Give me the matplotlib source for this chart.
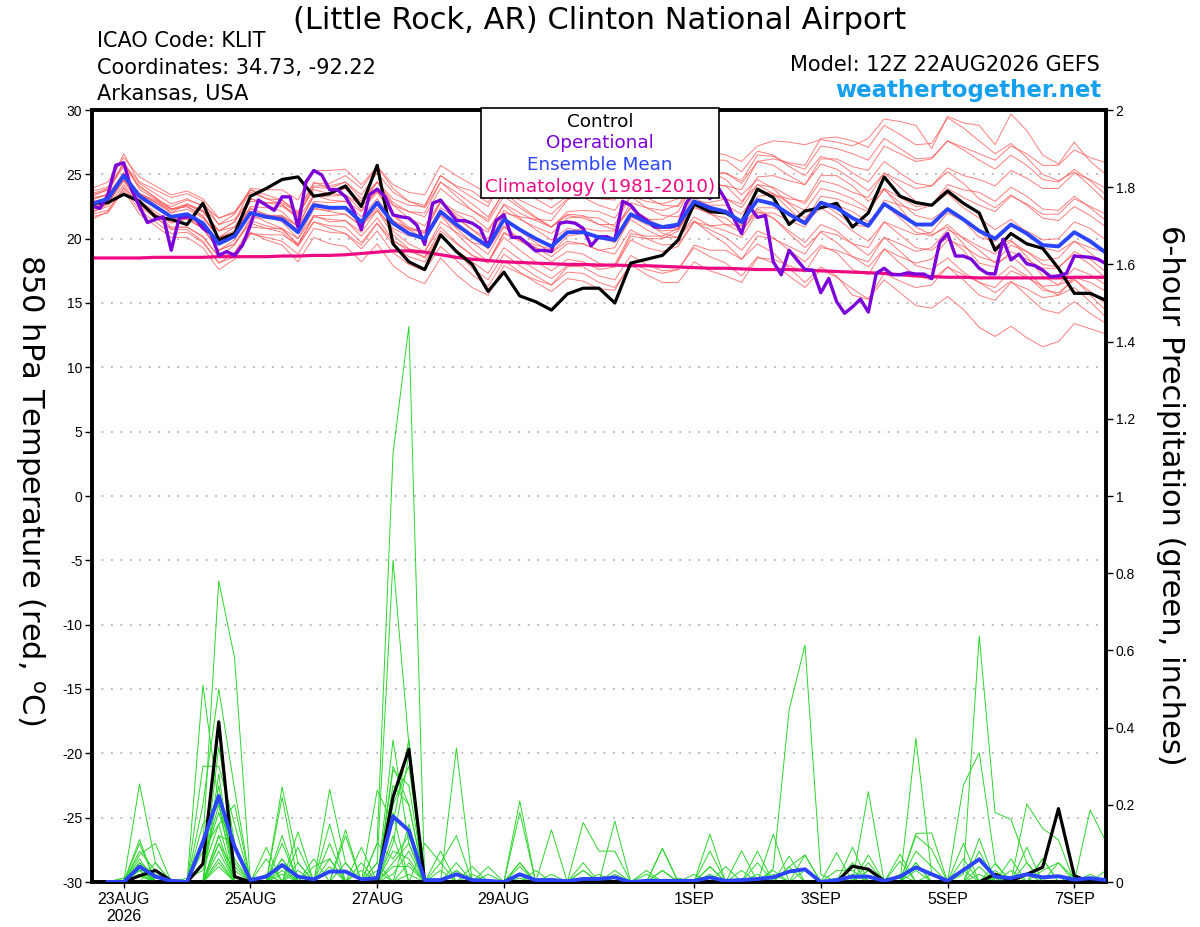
# =========================================
# Pluma GEFS - Little Rock (KLIT)
# Temperatura 850 hPa y precipitación 6 h
# =========================================

import numpy as np
import matplotlib
matplotlib.use("Agg")
import matplotlib.pyplot as plt
from matplotlib.patches import Rectangle
from matplotlib.ticker import FormatStrFormatter

plt.rcParams["font.family"] = ["DejaVu Sans"]
plt.rcParams["axes.unicode_minus"] = False
FUENTE_TICKS = ["Liberation Sans", "DejaVu Sans"]

# -----------------------------------------
# Datos: temperatura 850 hPa (cada 6 h desde 12Z 22AUG)
# -----------------------------------------
control_t = [22.75, 22.8, 23.45, 22.9, 21.7, 21.5, 21.1, 22.75, 19.9, 20.4,
             23.3, 23.9, 24.6, 24.8, 23.3, 23.5, 24.1, 22.5, 25.7, 19.6,
             18.2, 17.6, 20.3, 19.0, 18.0, 15.9, 17.4, 15.55, 15.1, 14.45,
             15.7, 16.15, 16.15, 15.0, 18.1, 18.4, 18.7, 19.9, 22.7, 22.1,
             22.0, 21.3, 23.85, 23.2, 21.1, 22.15, 22.4, 22.75, 20.9, 22.0,
             24.8, 23.3, 22.8, 22.6, 23.7, 22.75, 22.0, 19.1, 20.4, 19.6,
             19.25, 17.7, 15.75, 15.75, 15.2]

media_t = [22.7, 23.1, 24.9, 23.3, 22.5, 21.7, 21.9, 21.2, 19.6, 20.2,
           22.0, 21.7, 21.5, 20.5, 22.6, 22.4, 22.4, 21.3, 22.8, 21.2,
           20.4, 20.0, 22.1, 21.1, 20.2, 19.4, 21.5, 20.7, 20.0, 19.4,
           20.5, 20.5, 20.1, 19.9, 21.9, 21.3, 20.9, 21.1, 22.9, 22.4,
           22.1, 21.3, 23.0, 22.7, 21.9, 21.2, 22.8, 22.4, 21.6, 21.0,
           22.7, 21.9, 21.1, 21.1, 22.3, 21.5, 20.6, 20.0, 21.1, 20.4,
           19.5, 19.4, 20.5, 19.8, 18.9]

climatologia = [18.5, 18.5, 18.5, 18.5, 18.55, 18.55, 18.55, 18.55, 18.6, 18.6,
                18.6, 18.6, 18.65, 18.65, 18.7, 18.7, 18.75, 18.85, 18.95, 19.05,
                19.05, 18.95, 18.75, 18.55, 18.4, 18.3, 18.2, 18.15, 18.1, 18.05,
                18.0, 18.0, 17.95, 17.95, 17.9, 17.9, 17.85, 17.8, 17.75, 17.7,
                17.7, 17.65, 17.6, 17.6, 17.6, 17.55, 17.5, 17.45, 17.4, 17.35,
                17.3, 17.2, 17.1, 17.05, 17.0, 17.0, 16.95, 16.95, 16.95, 16.95,
                16.95, 16.95, 17.0, 17.0, 17.0]

# operacional cada 3 h
operacional = [22.55, 22.35, 23.4, 25.7, 25.9, 23.8, 22.5, 21.25, 21.5, 21.7,
               19.1, 21.6, 21.7, 21.6, 20.8, 20.4, 18.7, 19.0, 18.7, 19.5,
               21.05, 23.0, 22.6, 22.2, 23.25, 23.25, 20.9, 24.4, 25.3, 24.95,
               23.8, 23.8, 23.25, 22.2, 20.7, 23.4, 23.85, 23.25, 21.85, 21.7,
               21.6, 21.05, 19.55, 22.75, 23.0, 22.2, 21.4, 21.4, 21.2, 20.8,
               19.4, 21.4, 21.85, 20.1, 20.1, 19.6, 19.05, 19.1, 19.0, 21.2,
               21.3, 21.2, 20.8, 19.45, 20.15, 20.15, 19.9, 22.9, 22.6, 21.85,
               21.45, 20.9, 20.9, 20.9, 21.05, 22.75, 23.6, 23.9, 23.1, 24.0,
               23.0, 21.6, 20.4, 22.5, 21.65, 21.8, 18.2, 17.2, 19.1, 18.35,
               17.6, 17.55, 15.8, 16.9, 15.1, 14.2, 14.7, 15.3, 14.3, 17.3,
               17.7, 17.2, 17.2, 17.35, 17.25, 17.25, 16.9, 19.7, 20.4, 18.65,
               18.65, 18.4, 17.7, 17.3, 17.25, 19.95, 18.35, 18.8, 18.05, 17.9,
               17.55, 17.05, 17.1, 17.3, 18.65, 18.6, 18.55, 18.4, 18.05]

# miembros del ensamble (temperatura)
t01 = [23.0, 23.5, 26.0, 23.8, 23.1, 22.0, 22.7, 22.1, 20.6, 21.3, 23.8, 23.1, 23.0, 22.1, 24.4, 23.9, 24.4, 23.4, 25.1, 23.6,
       22.9, 22.6, 24.9, 24.0, 23.2, 22.5, 24.8, 24.1, 23.5, 23.0, 24.3, 24.0, 24.1, 24.0, 26.2, 25.7, 25.4, 25.7, 27.0, 26.8,
       26.5, 26.0, 27.2, 27.6, 27.5, 27.3, 27.7, 27.5, 27.2, 27.8, 29.3, 29.1, 28.8, 27.0, 29.5, 29.0, 28.8, 27.3, 29.7, 28.4,
       26.5, 25.8, 27.5, 26.0, 25.0]
t02 = [22.4, 22.7, 24.5, 22.9, 22.1, 21.3, 21.5, 20.8, 19.1, 19.6, 21.2, 20.8, 20.5, 19.4, 21.3, 21.0, 20.9, 19.7, 21.2, 19.5,
       18.6, 18.2, 20.2, 19.1, 18.2, 17.3, 19.3, 18.4, 17.6, 16.9, 17.9, 17.8, 17.1, 16.8, 18.7, 18.0, 17.5, 17.6, 19.3, 18.6,
       18.1, 17.1, 18.6, 18.1, 17.1, 16.2, 17.6, 17.0, 16.1, 15.3, 16.8, 15.8, 14.8, 14.6, 15.5, 14.5, 13.1, 12.4, 13.2, 12.3,
       11.6, 12.0, 13.4, 13.0, 12.6]
t03 = [23.5, 23.9, 26.6, 24.3, 23.5, 22.7, 23.1, 22.5, 21.1, 21.9, 23.9, 23.8, 23.8, 23.0, 25.3, 25.3, 25.4, 24.2, 25.6, 23.9,
       22.9, 22.4, 24.4, 23.3, 22.2, 21.3, 23.3, 22.4, 21.6, 20.9, 21.9, 21.8, 21.1, 21.1, 23.3, 22.9, 22.7, 23.1, 25.1, 24.9,
       25.1, 24.5, 26.5, 26.4, 25.8, 25.4, 27.2, 27.0, 26.6, 26.1, 27.8, 27.0, 26.2, 26.3, 27.6, 26.9, 26.1, 25.4, 26.5, 25.7,
       24.6, 24.4, 25.4, 24.5, 23.4]
t04 = [21.9, 22.2, 23.9, 22.2, 21.3, 20.4, 20.5, 19.7, 18.1, 18.6, 20.4, 20.1, 19.8, 18.8, 20.8, 20.5, 20.4, 19.2, 20.6, 18.9,
       18.0, 17.5, 19.4, 18.3, 17.2, 16.3, 18.3, 17.4, 16.6, 15.9, 16.9, 16.7, 16.1, 16.0, 18.1, 17.6, 17.3, 17.6, 19.5, 19.1,
       19.1, 18.4, 20.2, 20.0, 19.4, 18.8, 20.6, 20.3, 19.6, 18.7, 20.1, 19.0, 17.9, 17.6, 18.5, 17.4, 16.6, 15.8, 16.7, 15.6,
       14.5, 14.2, 15.1, 14.2, 13.4]
t05 = [23.2, 23.4, 25.1, 23.4, 22.5, 21.6, 21.6, 20.8, 19.1, 19.9, 21.9, 21.8, 21.8, 21.0, 23.3, 23.3, 23.4, 22.6, 24.4, 23.1,
       22.6, 22.5, 24.9, 24.1, 23.7, 22.8, 24.8, 23.9, 23.1, 22.4, 23.3, 23.2, 22.6, 22.2, 24.0, 23.2, 22.6, 22.5, 24.1, 23.4,
       23.1, 22.4, 24.2, 24.0, 23.3, 22.7, 24.5, 24.2, 23.6, 23.2, 25.1, 24.5, 23.9, 24.1, 25.5, 24.9, 24.6, 24.1, 25.3, 24.7,
       23.9, 23.9, 25.1, 24.6, 23.9]
t06 = [22.2, 22.8, 24.8, 23.4, 22.8, 22.2, 22.6, 22.1, 20.6, 20.9, 22.4, 21.8, 21.3, 20.0, 21.8, 21.3, 21.4, 20.2, 21.6, 19.9,
       19.0, 18.6, 20.6, 19.6, 18.7, 18.2, 20.5, 19.9, 19.5, 19.2, 20.5, 20.8, 20.6, 20.6, 22.8, 22.4, 22.2, 22.6, 24.6, 24.3,
       24.1, 22.9, 24.2, 23.5, 22.3, 21.2, 22.4, 21.6, 20.6, 19.8, 21.3, 20.3, 19.3, 19.1, 20.1, 19.1, 17.6, 16.9, 17.9, 17.1,
       16.0, 15.8, 16.8, 15.9, 14.9]
t07 = [23.9, 24.4, 26.3, 24.8, 24.1, 23.4, 23.7, 23.1, 21.6, 22.1, 23.8, 23.4, 23.0, 21.9, 23.8, 23.5, 23.4, 22.2, 23.6, 21.9,
       20.9, 20.4, 22.1, 20.9, 20.2, 19.2, 21.0, 19.9, 19.0, 18.2, 19.0, 18.8, 18.1, 17.8, 19.9, 19.3, 19.0, 19.4, 21.3, 21.0,
       21.1, 20.5, 22.4, 22.4, 21.9, 21.4, 23.3, 23.1, 22.6, 22.1, 23.9, 23.2, 22.5, 22.6, 23.9, 23.2, 22.6, 22.1, 23.3, 22.7,
       21.9, 21.9, 23.1, 22.5, 21.9]
t08 = [21.7, 22.0, 23.7, 21.9, 21.0, 20.1, 20.1, 19.3, 17.6, 18.4, 20.4, 20.3, 20.3, 19.5, 21.8, 21.8, 21.9, 21.0, 22.7, 21.3,
       20.7, 20.5, 22.8, 21.9, 21.2, 20.5, 22.7, 22.0, 21.4, 20.9, 22.1, 22.2, 22.1, 21.6, 23.3, 22.4, 21.8, 21.7, 23.2, 22.5,
       22.1, 21.0, 22.3, 21.6, 20.4, 19.3, 20.5, 19.7, 18.6, 17.8, 19.2, 18.1, 17.1, 16.8, 17.8, 16.8, 15.6, 15.2, 16.6, 16.1,
       15.4, 15.6, 17.0, 16.6, 15.9]
t09 = [22.7, 23.2, 25.1, 23.5, 22.8, 22.0, 22.3, 21.6, 20.1, 20.9, 22.9, 22.8, 22.8, 22.0, 24.3, 24.3, 24.9, 23.9, 25.6, 24.2,
       23.6, 23.4, 25.7, 24.9, 24.2, 23.5, 25.7, 25.0, 24.4, 23.9, 25.1, 25.2, 25.1, 24.6, 26.3, 25.4, 24.7, 24.6, 26.1, 25.3,
       25.1, 24.3, 26.0, 25.7, 24.9, 24.2, 25.8, 25.4, 24.6, 23.7, 25.1, 24.0, 22.9, 22.6, 23.5, 22.4, 21.6, 20.7, 21.5, 20.5,
       19.3, 19.0, 19.8, 18.9, 17.9]
t10 = [22.9, 23.1, 24.7, 22.9, 21.9, 20.9, 20.9, 20.1, 18.6, 18.9, 20.5, 19.9, 19.5, 18.2, 20.1, 19.6, 19.4, 18.2, 19.6, 17.9,
       17.0, 16.5, 18.5, 17.2, 16.2, 15.6, 17.9, 17.3, 16.8, 16.4, 17.8, 18.0, 17.8, 18.0, 20.4, 20.2, 20.2, 20.8, 22.9, 22.8,
       23.1, 22.7, 24.8, 24.9, 24.5, 24.2, 26.2, 26.2, 25.6, 25.3, 27.2, 26.6, 26.0, 26.2, 27.6, 27.1, 26.6, 26.1, 27.2, 26.6,
       25.7, 25.7, 26.9, 26.3, 25.9]
t11 = [22.5, 22.8, 24.6, 23.1, 22.4, 21.6, 21.9, 21.3, 19.6, 20.3, 22.1, 21.8, 21.7, 20.7, 22.9, 22.8, 22.9, 21.7, 23.1, 21.4,
       20.4, 19.9, 21.9, 20.8, 19.7, 18.8, 20.9, 20.0, 19.3, 18.6, 19.6, 19.6, 19.1, 18.8, 20.7, 20.0, 19.5, 19.6, 21.3, 20.7,
       20.1, 19.1, 20.6, 20.1, 19.1, 18.2, 19.5, 18.9, 17.6, 17.2, 19.2, 18.6, 18.1, 18.4, 19.9, 19.4, 18.6, 18.2, 19.5, 19.0,
       18.3, 18.5, 19.8, 19.3, 18.9]
t12 = [23.3, 23.8, 25.8, 24.4, 23.8, 23.2, 23.5, 22.9, 21.1, 21.5, 23.1, 22.6, 22.1, 20.9, 22.8, 22.4, 22.4, 21.0, 22.2, 20.3,
       19.2, 18.5, 20.3, 19.0, 17.7, 16.8, 18.8, 17.9, 17.1, 16.4, 17.4, 17.3, 16.6, 16.2, 18.0, 17.2, 16.6, 16.6, 18.2, 17.5,
       17.1, 16.6, 18.5, 18.4, 17.9, 17.4, 19.3, 19.1, 18.6, 18.2, 20.1, 19.6, 19.0, 19.3, 20.7, 20.1, 19.4, 18.8, 19.8, 19.0,
       18.0, 17.8, 18.8, 18.0, 16.9]
t13 = [22.1, 22.5, 24.2, 22.5, 21.6, 20.8, 20.9, 20.2, 18.6, 19.5, 21.6, 21.6, 21.7, 21.0, 23.4, 23.5, 23.9, 22.9, 24.4, 22.8,
       22.1, 21.7, 23.9, 22.9, 22.2, 21.5, 23.7, 23.0, 22.4, 21.9, 23.1, 23.2, 23.1, 23.0, 25.1, 24.6, 24.3, 24.6, 26.5, 26.1,
       26.1, 25.2, 26.8, 26.5, 25.6, 24.9, 26.4, 26.0, 25.1, 24.4, 26.0, 25.1, 24.3, 24.1, 25.2, 24.3, 23.1, 22.4, 23.4, 22.6,
       21.6, 21.4, 22.5, 21.8, 20.9]
t14 = [23.7, 24.0, 25.8, 24.1, 23.2, 22.3, 22.5, 21.7, 20.1, 20.6, 22.3, 21.9, 21.6, 20.4, 22.4, 22.1, 21.9, 21.0, 22.8, 21.4,
       20.8, 20.6, 22.9, 22.1, 21.7, 20.7, 22.6, 21.6, 20.7, 19.9, 20.8, 20.6, 20.1, 19.7, 21.5, 20.7, 20.1, 20.1, 21.7, 21.0,
       20.6, 20.1, 22.0, 22.0, 21.4, 20.9, 22.8, 22.6, 22.1, 21.3, 22.7, 21.6, 20.5, 20.2, 21.1, 20.0, 19.1, 18.1, 18.7, 17.6,
       16.2, 15.6, 16.2, 15.1, 13.9]
t15 = [21.5, 22.1, 24.0, 22.6, 21.9, 21.2, 21.6, 21.1, 19.6, 20.4, 22.5, 22.4, 22.5, 21.7, 24.1, 24.1, 24.4, 23.1, 24.4, 22.6,
       21.6, 21.0, 22.9, 21.7, 20.7, 19.7, 21.6, 20.6, 19.7, 18.9, 19.8, 19.6, 19.1, 19.3, 21.7, 21.5, 21.5, 22.1, 24.3, 24.2,
       24.1, 23.8, 26.0, 26.2, 25.9, 25.7, 27.8, 27.9, 27.6, 27.1, 28.8, 28.1, 27.3, 27.4, 29.4, 28.6, 27.6, 26.6, 27.4, 26.3,
       25.0, 24.5, 25.2, 24.1, 22.9]
t16 = [23.1, 23.4, 25.1, 23.4, 22.5, 21.6, 21.6, 20.8, 19.1, 19.6, 21.4, 21.0, 20.7, 19.6, 21.7, 21.5, 21.4, 20.5, 22.2, 20.8,
       20.2, 20.1, 22.4, 21.6, 20.7, 20.0, 22.2, 21.5, 20.9, 20.4, 21.6, 21.7, 21.6, 20.9, 22.4, 21.3, 20.4, 20.1, 21.4, 20.4,
       19.6, 18.4, 19.6, 18.9, 17.7, 16.6, 17.8, 17.1, 15.6, 15.3, 17.3, 16.7, 16.2, 16.4, 17.8, 17.2, 16.6, 16.2, 17.5, 17.0,
       16.3, 16.4, 17.7, 17.2, 16.4]
t17 = [22.3, 22.9, 24.9, 23.5, 22.9, 22.3, 22.7, 22.2, 20.6, 21.3, 23.1, 22.8, 22.6, 21.8, 24.0, 23.9, 23.9, 22.5, 23.7, 21.8,
       20.7, 20.0, 21.8, 20.4, 19.2, 18.2, 20.1, 19.1, 18.2, 17.5, 18.4, 18.2, 17.6, 17.8, 20.2, 20.0, 20.0, 20.6, 22.8, 22.6,
       22.6, 21.9, 23.7, 23.5, 22.8, 22.2, 23.9, 23.6, 23.1, 22.3, 23.8, 22.8, 21.8, 21.5, 22.4, 21.4, 20.1, 19.8, 21.0, 20.6,
       19.9, 20.0, 21.3, 20.8, 19.9]
t18 = [22.7, 22.9, 24.5, 22.7, 21.7, 20.7, 20.7, 19.8, 18.1, 18.9, 20.9, 20.8, 20.8, 20.0, 22.3, 22.2, 22.4, 21.1, 22.4, 20.6,
       19.6, 19.0, 20.9, 19.7, 18.7, 18.1, 20.4, 19.8, 19.3, 18.9, 20.2, 20.4, 20.1, 19.8, 21.7, 21.1, 20.6, 20.7, 22.5, 21.9,
       21.6, 20.6, 22.1, 21.6, 20.6, 19.7, 21.1, 20.6, 19.6, 19.3, 21.3, 20.8, 20.3, 20.5, 22.0, 21.4, 20.6, 19.4, 19.9, 18.6,
       17.1, 16.4, 16.9, 15.6, 14.4]
t19 = [23.4, 23.8, 25.6, 24.0, 23.2, 22.3, 22.5, 21.8, 20.1, 20.4, 21.9, 21.3, 20.8, 19.5, 21.3, 20.8, 20.4, 19.5, 21.2, 19.8,
       19.2, 19.0, 21.3, 20.5, 19.7, 19.4, 22.0, 21.7, 21.5, 21.4, 23.0, 23.5, 23.6, 23.3, 25.2, 24.5, 24.0, 24.1, 25.8, 25.2,
       24.6, 23.4, 24.6, 23.9, 22.7, 21.6, 22.8, 22.0, 21.1, 20.9, 23.0, 22.6, 22.2, 22.6, 24.2, 23.8, 23.6, 22.9, 24.0, 23.3,
       22.3, 22.2, 23.3, 22.4, 21.4]
t20 = [22.0, 22.7, 24.8, 23.5, 23.0, 22.5, 23.0, 22.6, 21.6, 22.0, 23.6, 23.1, 22.7, 21.5, 23.4, 23.0, 22.9, 22.1, 23.9, 22.6,
       22.1, 22.0, 24.4, 23.6, 22.7, 21.7, 23.6, 22.6, 21.7, 20.9, 21.8, 21.6, 21.1, 20.7, 22.4, 21.6, 20.9, 20.8, 22.4, 22.0,
       21.1, 21.0, 23.3, 23.4, 23.1, 22.9, 24.9, 24.9, 24.1, 22.9, 23.9, 22.4, 20.9, 20.3, 20.9, 19.6, 18.1, 17.8, 19.0, 18.4,
       17.7, 17.7, 19.0, 18.4, 17.4]

# -----------------------------------------
# Datos: precipitación 6 h (pulgadas, desde 18Z 22AUG)
# -----------------------------------------
control_pp = [0, 0, .016, .03, .003, 0, .047, .415, .014, 0, 0, 0, 0, 0, 0, 0,
              0, 0, .22, .344, 0, 0, 0, 0, 0, 0, 0, 0, 0, 0, 0, 0,
              0, 0, 0, 0, 0, 0, 0, 0, 0, 0, 0, 0, 0, 0, 0, .041,
              .033, .003, 0, 0, 0, 0, 0, 0, .02, .003, .02, .038, .19, .016, 0, 0]

media_pp = [0, 0, .04, .014, .003, 0, .104, .223, .091, .005, .014, .044, .014, .007, .027, .027,
            .007, .01, .17, .133, .005, .005, .02, .005, .003, 0, .02, .005, .005, .002, .008, .008,
            .012, 0, .003, .003, .003, .003, .012, .003, .005, .008, .012, .027, .033, 0, .005, .014,
            .014, .003, .014, .038, .02, .003, .031, .059, .014, .01, .02, .012, .015, .006, .01, .005]

p01 = [0, 0, .02, 0, 0, 0, 0, .12, 0, 0, 0, .06, 0, 0, 0, 0,
       0, .1, 1.11, 1.44, 0, 0, 0, 0, 0, 0, 0, 0, 0, 0, 0, 0,
       0, 0, 0, 0, 0, 0, 0, 0, 0, 0, 0, .04, 0, 0, 0, 0,
       0, 0, 0, 0, 0, 0, 0, .113, 0, 0, 0, 0, 0, 0, 0, 0]
p02 = [0, 0, .04, 0, 0, 0, 0, .28, 0, 0, 0, 0, 0, 0, 0, 0,
       0, .05, .834, .355, 0, 0, .05, 0, 0, 0, 0, 0, 0, 0, 0, 0,
       0, 0, 0, 0, 0, 0, 0, 0, 0, 0, 0, 0, 0, 0, 0, 0,
       0, 0, 0, .05, 0, 0, 0, 0, 0, 0, 0, .06, 0, 0, 0, 0]
p03 = [0, 0, .11, 0, 0, 0, .51, .2, .06, 0, 0, 0, 0, 0, .1, 0,
       0, 0, .368, .1, 0, 0, 0, 0, 0, 0, 0, 0, 0, 0, 0, 0,
       0, 0, 0, 0, 0, 0, .04, 0, 0, 0, 0, 0, 0, 0, 0, 0,
       0, 0, 0, 0, 0, 0, 0, .08, 0, 0, 0, 0, 0, 0, 0, 0]
p04 = [0, 0, 0, 0, 0, 0, .1, .78, .58, 0, 0, .12, 0, 0, 0, 0,
       0, 0, .2, .3, 0, 0, 0, 0, 0, 0, .05, 0, 0, 0, 0, 0,
       0, 0, 0, 0, 0, 0, 0, 0, 0, 0, 0, 0, 0, 0, 0, 0,
       0, 0, 0, 0, 0, 0, 0, 0, 0, 0, 0, 0, 0, 0, .02, 0]
p05 = [0, 0, .254, .05, 0, 0, .2, .5, .24, 0, 0, 0, .09, 0, 0, 0,
       0, 0, 0, .15, 0, 0, 0, 0, 0, 0, 0, 0, 0, 0, .03, 0,
       0, 0, 0, 0, 0, 0, 0, 0, 0, 0, 0, 0, .07, 0, 0, 0,
       0, 0, 0, 0, 0, 0, 0, 0, 0, 0, 0, 0, 0, 0, 0, 0]
p06 = [0, 0, 0, 0, 0, 0, 0, .35, .1, 0, 0, .246, .05, 0, 0, 0,
       0, 0, .29, .25, 0, 0, .347, 0, 0, 0, 0, 0, 0, 0, 0, 0,
       0, 0, 0, 0, 0, 0, 0, 0, 0, 0, .035, .446, .614, .02, 0, 0,
       .07, 0, 0, 0, 0, 0, 0, 0, 0, 0, 0, 0, 0, 0, 0, 0]
p07 = [0, 0, 0, 0, 0, 0, .3, .3, .15, 0, 0, 0, 0, 0, .24, .05,
       0, 0, .25, .2, 0, 0, 0, 0, 0, 0, 0, 0, 0, 0, 0, 0,
       0, 0, 0, 0, 0, 0, 0, 0, 0, 0, 0, 0, 0, 0, 0, 0,
       0, 0, 0, 0, 0, 0, .02, .637, .18, .162, .05, 0, 0, 0, 0, 0]
p08 = [0, 0, .08, .03, 0, 0, 0, .25, 0, 0, 0, .22, 0, 0, 0, 0,
       0, .238, .15, .37, 0, 0, 0, 0, 0, 0, .21, 0, 0, 0, 0, 0,
       0, 0, 0, 0, 0, 0, 0, 0, 0, 0, 0, 0, 0, 0, 0, 0,
       0, 0, 0, 0, 0, 0, .251, .335, .05, 0, 0, 0, 0, 0, 0, 0]
p09 = [0, 0, .07, .1, 0, 0, .15, .2, 0, 0, 0, 0, .13, 0, 0, 0,
       0, 0, .1, .33, 0, 0, 0, 0, 0, 0, 0, 0, .135, 0, 0, 0,
       0, 0, 0, 0, 0, 0, 0, 0, 0, 0, 0, 0, 0, 0, 0, 0,
       0, 0, 0, .372, .02, 0, 0, 0, 0, 0, 0, 0, 0, 0, 0, 0]
p10 = [0, 0, .06, 0, 0, 0, .08, .15, .2, 0, .09, 0, 0, 0, 0, .135,
       0, 0, .05, .1, 0, 0, 0, 0, 0, 0, 0, 0, 0, 0, .154, .08,
       .08, 0, 0, 0, 0, 0, 0, 0, 0, 0, 0, 0, 0, 0, 0, 0,
       .234, 0, 0, 0, 0, 0, 0, 0, 0, 0, .202, .139, .109, 0, 0, 0]
p11 = [0, 0, .05, 0, 0, 0, 0, .12, .1, 0, 0, 0, 0, 0, .15, 0,
       .09, 0, 0, .05, 0, 0, 0, 0, 0, 0, 0, 0, 0, 0, 0, 0,
       .158, 0, 0, .087, 0, 0, 0, 0, 0, 0, 0, 0, 0, 0, 0, 0,
       0, 0, 0, .126, .127, 0, 0, 0, 0, 0, 0, 0, 0, 0, .187, .104]
p12 = [0, 0, .04, 0, 0, 0, 0, .1, 0, 0, 0, .1, 0, .06, 0, 0,
       0, 0, .12, 0, 0, .05, 0, 0, 0, 0, .18, 0, 0, 0, 0, 0,
       0, 0, 0, 0, 0, 0, .124, 0, 0, 0, .124, 0, 0, 0, 0, .09,
       0, 0, 0, .12, .085, 0, 0, 0, 0, 0, .09, 0, 0, 0, 0, 0]
p13 = [0, .01, .03, 0, 0, 0, 0, .08, 0, 0, .06, 0, 0, 0, 0, .12,
       0, .05, 0, 0, .1, .05, .12, 0, 0, 0, 0, 0, 0, 0, 0, 0,
       0, 0, 0, 0, 0, 0, 0, 0, .081, 0, 0, 0, 0, 0, .076, 0,
       0, 0, 0, 0, 0, 0, .1, 0, 0, .06, 0, 0, .05, 0, 0, 0]
p14 = [0, 0, .02, 0, 0, 0, .05, .2, .05, 0, 0, 0, .05, 0, .06, 0,
       0, 0, .18, 0, 0, 0, 0, .04, 0, 0, 0, 0, 0, 0, 0, 0,
       0, 0, 0, .03, 0, 0, .08, 0, 0, .08, 0, 0, 0, 0, 0, 0,
       .05, 0, 0, 0, 0, 0, 0, 0, .047, 0, 0, .06, 0, 0, 0, 0]
p15 = [0, 0, .05, .02, 0, 0, 0, .06, 0, 0, 0, .06, 0, 0, 0, 0,
       .05, 0, .08, .06, 0, 0, .03, 0, .04, 0, 0, 0, .02, 0, 0, 0,
       0, 0, .03, 0, 0, 0, 0, .04, 0, .05, 0, .067, 0, 0, 0, .05,
       0, 0, .054, 0, 0, 0, .06, 0, 0, .03, 0, 0, 0, 0, 0, 0]
p16 = [0, 0, 0, .05, 0, 0, 0, .04, 0, 0, 0, 0, 0, .04, .06, 0,
       .03, 0, .3, .2, 0, .03, 0, 0, 0, 0, .05, 0, 0, 0, .05, 0,
       .02, 0, 0, .087, 0, 0, 0, 0, 0, 0, .03, 0, .03, 0, 0, 0,
       .03, 0, .072, 0, 0, 0, 0, .04, 0, 0, .05, 0, 0, 0, 0, 0]
p17 = [0, 0, .1, 0, 0, 0, .05, .18, .04, 0, 0, .03, 0, 0, 0, .05,
       0, .1, .06, .12, 0, 0, 0, .02, 0, 0, 0, .03, 0, 0, 0, .02,
       0, 0, .02, 0, 0, .02, 0, 0, .03, 0, 0, 0, 0, 0, .03, .03,
       0, 0, 0, .08, .04, 0, 0, 0, .03, 0, 0, 0, 0, .02, 0, .03]
p18 = [0, 0, .03, 0, 0, 0, 0, .1, .03, 0, .02, 0, .03, 0, 0, 0,
       0, 0, .04, .04, 0, 0, .03, 0, 0, 0, .04, 0, 0, 0, .03, 0,
       0, 0, 0, 0, .01, 0, .04, 0, 0, 0, 0, .04, .07, 0, 0, 0,
       .03, 0, 0, .05, 0, 0, .03, 0, 0, 0, 0, .03, .05, .01, 0, 0]
p19 = [0, .01, .015, 0, 0, .01, .03, .15, 0, 0, 0, .02, 0, 0, .04, 0,
       0, 0, .02, .08, 0, .08, 0, 0, .02, 0, 0, 0, .01, 0, 0, 0,
       .03, 0, 0, .03, 0, 0, 0, 0, 0, .02, 0, 0, 0, 0, 0, .02,
       0, 0, .02, 0, .02, 0, 0, .02, 0, .01, 0, 0, 0, 0, .01, 0]
p20 = [0, 0, .03, .03, 0, 0, 0, .05, 0, 0, 0, .04, 0, 0, 0, 0,
       0, .03, 0, .02, 0, 0, .02, 0, 0, 0, .01, 0, 0, 0, 0, .01,
       0, 0, 0, 0, 0, 0, .02, 0, 0, 0, .02, 0, 0, 0, .01, 0,
       0, 0, 0, .03, 0, 0, 0, 0, .01, 0, .02, 0, 0, 0, 0, .01]

# -----------------------------------------
# Ejes de tiempo y etiquetas
# -----------------------------------------
horas_ticks = [12, 60, 108, 156, 228, 276, 324, 372]
etiquetas_x = ["23AUG\n2026", "25AUG", "27AUG", "29AUG", "1SEP", "3SEP", "5SEP", "7SEP"]

miembros_t = [t01, t02, t03, t04, t05, t06, t07, t08, t09, t10,
              t11, t12, t13, t14, t15, t16, t17, t18, t19, t20]
miembros_pp = [p01, p02, p03, p04, p05, p06, p07, p08, p09, p10,
               p11, p12, p13, p14, p15, p16, p17, p18, p19, p20]

horas = np.arange(len(control_t)) * 6
horas_op = np.arange(len(operacional)) * 3
horas_pp = np.arange(1, len(control_pp) + 1) * 6

# -----------------------------------------
# Figura
# -----------------------------------------
W, H = 1200, 927
fig = plt.figure(figsize=(12, 9.27), dpi=100)
ax = fig.add_axes([92 / W, 1 - 882 / H, 1014 / W, 772 / H])
ax2 = ax.twinx()

for m in miembros_t:
    ax.plot(horas, m, color="#ff5252", lw=0.7, alpha=0.75, zorder=2)
ax.plot(horas, climatologia, color="#ee0a82", lw=2.3, zorder=3)
ax.plot(horas, control_t, color="black", lw=2.3, zorder=4)
ax.plot(horas_op, operacional, color="#7b00d9", lw=2.4, zorder=5)
ax.plot(horas, media_t, color="#2a44ff", lw=2.8, zorder=6)

for p in miembros_pp:
    ax2.plot(horas_pp, p, color="#2bd62b", lw=0.7, zorder=2)
ax2.plot(horas_pp, control_pp, color="black", lw=2.3, zorder=4)
ax2.plot(horas_pp, media_pp, color="#2a44ff", lw=2.8, zorder=5)

ax.set_xlim(0, 384)
ax.set_ylim(-30, 30)
ax2.set_ylim(0, 2)

ax.set_yticks(range(-30, 31, 5))
ax2.set_yticks(np.arange(0, 2.01, 0.2))
ax2.yaxis.set_major_formatter(FormatStrFormatter("%g"))
ax.set_xticks(horas_ticks)
ax.set_xticklabels(etiquetas_x)

ax.grid(axis="y", color="#a8a8a8", linestyle=(0, (1.2, 5)), linewidth=1.1)

for a in (ax, ax2):
    for s in a.spines.values():
        s.set_linewidth(2.6)
ax.tick_params(axis="y", direction="out", length=5, width=1, labelsize=10, pad=2)
ax2.tick_params(axis="y", direction="out", length=5, width=1, labelsize=10, pad=2)
ax.tick_params(axis="x", direction="out", length=4, width=1, labelsize=11.5, pad=3)
for etq in ax.get_xticklabels() + ax.get_yticklabels() + ax2.get_yticklabels():
    etq.set_family(FUENTE_TICKS)

# -----------------------------------------
# Leyenda (caja central)
# -----------------------------------------
x0 = (481 - 92) / 1014
x1 = (719 - 92) / 1014
y0 = (882 - 198) / 772
y1 = (882 - 108) / 772
ax2.add_patch(Rectangle((x0, y0), x1 - x0, y1 - y0, transform=ax2.transAxes,
                        facecolor="white", edgecolor="black", lw=1.2,
                        zorder=20, clip_on=False))
leyenda = [("Control", "black", 127), ("Operational", "#7b00d9", 148),
           ("Ensemble Mean", "#2a44ff", 170), ("Climatology (1981-2010)", "#ee0a82", 192)]
for txt, col, yb in leyenda:
    fig.text(600 / W, 1 - yb / H, txt, color=col, ha="center", va="baseline",
             fontsize=13.2, zorder=30)

# -----------------------------------------
# Textos de cabecera y ejes
# -----------------------------------------
fig.text(600 / W, 1 - 29 / H, "(Little Rock, AR) Clinton National Airport",
         ha="center", va="baseline", fontsize=22)
fig.text(97 / W, 1 - 47 / H, "ICAO Code: KLIT", ha="left", va="baseline", fontsize=15)
fig.text(97 / W, 1 - 74 / H, "Coordinates: 34.73, -92.22", ha="left", va="baseline", fontsize=15)
fig.text(97 / W, 1 - 100 / H, "Arkansas, USA", ha="left", va="baseline", fontsize=15)
fig.text(1100 / W, 1 - 71 / H, "Model: 12Z 22AUG2026 GEFS", ha="right", va="baseline", fontsize=15)
fig.text(1101 / W, 1 - 97 / H, "weathertogether.net", ha="right", va="baseline",
         fontsize=16.5, fontweight="bold", color="#14a0ee")

fig.text(30 / W, 1 - 490 / H, "850 hPa Temperature (red, $^\\mathrm{o}$C)",
         rotation=-90, ha="center", va="center", fontsize=22)
fig.text(1170 / W, 1 - 495 / H, "6-hour Precipitation (green, inches)",
         rotation=-90, ha="center", va="center", fontsize=22)

fig.savefig("out.png", dpi=100)
print("out.png generada")
